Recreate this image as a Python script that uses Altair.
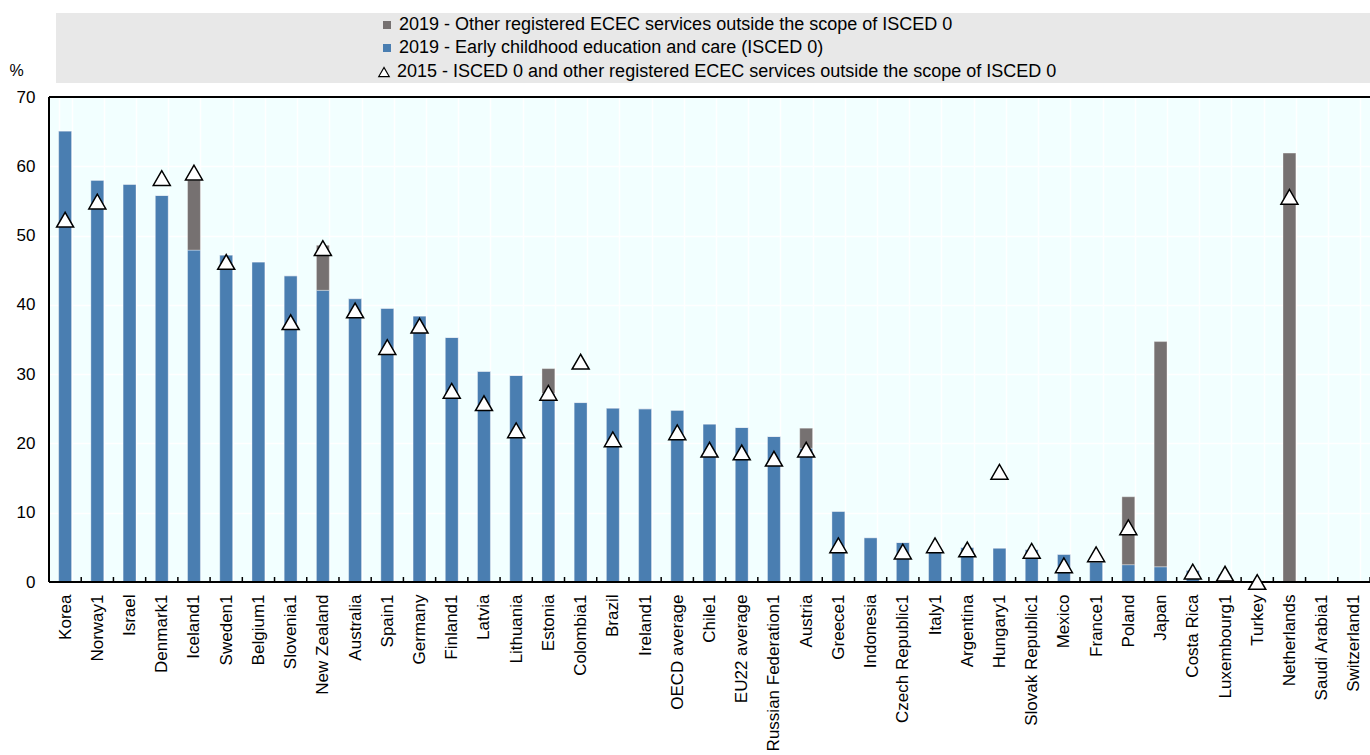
import altair as alt
import pandas as pd

FONT = "Liberation Sans"

countries = [
    "Korea", "Norway1", "Israel", "Denmark1", "Iceland1", "Sweden1", "Belgium1",
    "Slovenia1", "New Zealand", "Australia", "Spain1", "Germany", "Finland1",
    "Latvia", "Lithuania", "Estonia", "Colombia1", "Brazil", "Ireland1",
    "OECD average", "Chile1", "EU22 average", "Russian Federation1", "Austria",
    "Greece1", "Indonesia", "Czech Republic1", "Italy1", "Argentina", "Hungary1",
    "Slovak Republic1", "Mexico", "France1", "Poland", "Japan", "Costa Rica",
    "Luxembourg1", "Turkey", "Netherlands", "Saudi Arabia1", "Switzerland1",
]

# 2019 - ISCED 0 (%)
isced0_2019 = [
    65.1, 58.0, 57.4, 55.8, 47.9, 47.2, 46.2,
    44.2, 42.1, 40.9, 39.5, 38.4, 35.3,
    30.4, 29.8, 27.2, 25.9, 25.1, 25.0,
    24.8, 22.8, 22.3, 21.0, 19.3,
    10.2, 6.4, 5.7, 4.3, 5.0, 4.9,
    4.7, 4.0, 2.9, 2.5, 2.2, 1.7,
    1.1, None, 0.0, None, None,
]

# 2019 - other registered ECEC services outside ISCED 0 (%)
other_2019 = [
    0, 0, 0, 0, 10.1, 0, 0,
    0, 6.5, 0, 0, 0, 0,
    0, 0, 3.6, 0, 0, 0,
    0, 0, 0, 0, 2.9,
    0, 0, 0, 0, 0, 0,
    0, 0, 0, 9.8, 32.5, 0,
    0, None, 61.9, None, None,
]

# 2015 - total (%)
total_2015 = [
    52.3, 54.9, None, 58.3, 59.1, 46.2, None,
    37.5, 48.2, 39.2, 33.9, 37.0, 27.6,
    25.8, 21.9, 27.3, 31.8, 20.6, None,
    21.6, 19.1, 18.7, 17.8, 19.1,
    5.3, None, 4.4, 5.3, 4.7, 15.9,
    4.5, 2.4, 4.0, 7.9, None, 1.5,
    1.2, 0.0, 55.6, None, None,
]

S_OTHER = "2019 - Other registered ECEC services outside the scope of ISCED 0"
S_ISCED = "2019 - Early childhood education and care (ISCED 0)"
S_2015 = "2015 - ISCED 0 and other registered ECEC services outside the scope of ISCED 0"

rows = []
for c, b, g in zip(countries, isced0_2019, other_2019):
    if b is not None:
        rows.append({"country": c, "series": S_ISCED, "value": b, "order": 0})
    if g is not None:
        rows.append({"country": c, "series": S_OTHER, "value": g, "order": 1})
bars_df = pd.DataFrame(rows)

tri_df = pd.DataFrame(
    [{"country": c, "series": S_2015, "value": v}
     for c, v in zip(countries, total_2015) if v is not None]
)
cat_df = pd.DataFrame({"country": countries})
one_df = pd.DataFrame({"k": [0]})

W, H = 1321, 485
STEP = W / len(countries)

xscale = alt.Scale(domain=countries, paddingInner=0.6, paddingOuter=0.3)
yscale = alt.Scale(domain=[0, 70], nice=False)

x_axis = alt.Axis(
    title=None, labelAngle=-90, labelAlign="right", labelBaseline="middle",
    labelFontSize=17, labelFont=FONT, labelColor="black", labelPadding=12,
    ticks=False, tickSize=0, domain=False,
    grid=True, gridColor="white", gridWidth=1.5, tickBand="extent",
    labelLimit=0,
)
y_axis = alt.Axis(
    values=[0, 10, 20, 30, 40, 50, 60, 70], title="%", titleAngle=0,
    titleX=-33, titleY=-27, titleFontSize=16, titleFont=FONT,
    titleFontWeight="normal", titleAlign="center", titleBaseline="middle",
    titleColor="black",
    labelFontSize=17, labelFont=FONT, labelColor="black", labelPadding=14,
    ticks=False, tickSize=0, domain=False,
    gridColor="white", gridWidth=1.5,
)

X = alt.X("country:N", sort=countries, scale=xscale, axis=x_axis)

legend_box = alt.Chart(one_df).mark_rect(color="#E8E8E8").encode(
    x=alt.value(7), x2=alt.value(W), y=alt.value(-84), y2=alt.value(-14)
)

bars = alt.Chart(bars_df).mark_bar(
    stroke="white", strokeOpacity=0.35, strokeWidth=1
).encode(
    x=X,
    y=alt.Y("value:Q", stack="zero", scale=yscale, axis=y_axis),
    color=alt.Color(
        "series:N",
        scale=alt.Scale(domain=[S_OTHER, S_ISCED], range=["#767171", "#4A7EB1"]),
        legend=alt.Legend(
            title=None, orient="none", legendX=329, legendY=-81,
            symbolType="square", symbolSize=64, symbolStrokeWidth=0,
            labelFontSize=18, labelFont=FONT, labelColor="black",
            labelOffset=3, rowPadding=5, labelLimit=0, padding=0,
        ),
    ),
    order=alt.Order("order:Q"),
)

ticks = alt.Chart(cat_df).mark_rule(
    color="black", strokeWidth=1.5, xOffset=0.3 * STEP
).encode(
    x=alt.X("country:N", sort=countries, scale=xscale, bandPosition=1),
    y=alt.value(H - 5), y2=alt.value(H),
)

tri_legend = alt.Legend(
    title=None, orient="none", legendX=326, legendY=-34,
    symbolSize=110, symbolFillColor="white", symbolStrokeWidth=1.2,
    labelFontSize=18, labelFont=FONT, labelColor="black",
    labelOffset=4, labelLimit=0, padding=0,
)

tris = alt.Chart(tri_df).mark_point(
    filled=False, fill="white", strokeWidth=1.5,
    size=290, opacity=1, fillOpacity=1, strokeOpacity=1,
).encode(
    x=X,
    y=alt.Y("value:Q", scale=yscale),
    shape=alt.Shape(
        "series:N",
        scale=alt.Scale(domain=[S_2015], range=["triangle-up"]),
        legend=tri_legend,
    ),
    stroke=alt.Stroke(
        "series:N",
        scale=alt.Scale(domain=[S_2015], range=["black"]),
        legend=tri_legend,
    ),
)

frame_top = alt.Chart(one_df).mark_rule(color="black", strokeWidth=2).encode(
    x=alt.value(0), x2=alt.value(W), y=alt.value(0)
)
frame_bottom = alt.Chart(one_df).mark_rule(color="black", strokeWidth=2).encode(
    x=alt.value(0), x2=alt.value(W), y=alt.value(H)
)
frame_left = alt.Chart(one_df).mark_rule(color="black", strokeWidth=2).encode(
    x=alt.value(0), y=alt.value(0), y2=alt.value(H)
)

chart = alt.layer(
    legend_box, bars, ticks, frame_bottom, frame_left, frame_top, tris
).properties(
    width=W, height=H,
    autosize=alt.AutoSizeParams(type="none"),
    padding={"left": 49, "top": 97, "right": 0, "bottom": 173},
    background="white",
).configure_view(
    stroke=None, fill="#F2FFFF"
)

chart.save("out.html", embed_options={"renderer": "svg", "actions": False})
